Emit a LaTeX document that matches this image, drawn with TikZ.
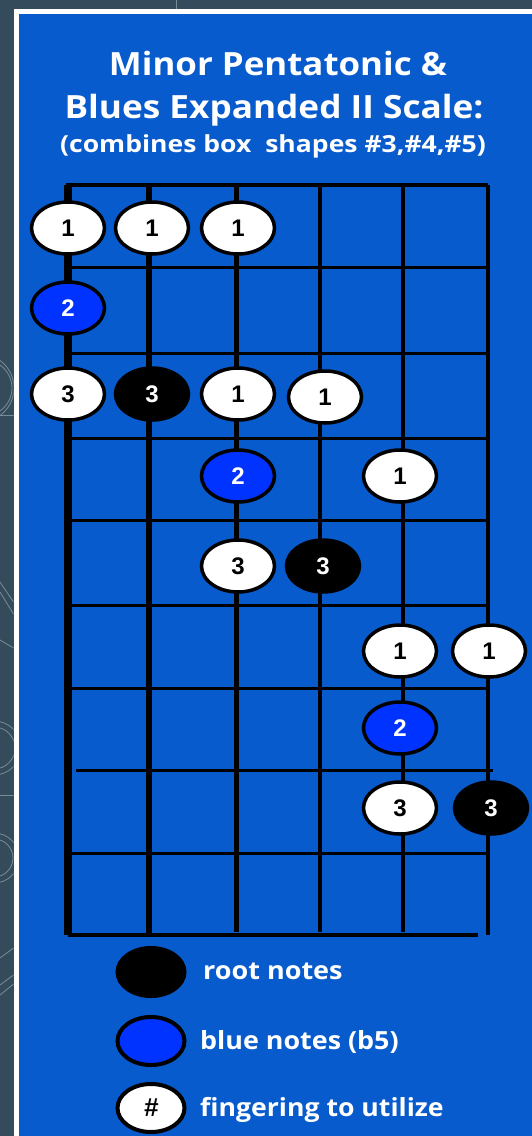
\documentclass[tikz,border=0pt]{standalone}
\usepackage{fontspec}
\setmainfont{Open Sans}
\newfontfamily\notefont{Liberation Sans}
\usetikzlibrary{shapes.geometric}
\definecolor{bgdark}{RGB}{52,75,91}
\definecolor{decor}{RGB}{120,140,152}
\definecolor{panel}{RGB}{8,91,204}
\definecolor{bluenote}{RGB}{0,51,255}
\begin{document}
\begin{tikzpicture}[x=1pt,y=-1pt,
  note/.style={ellipse, draw=black, line width=3.5pt, minimum width=73pt, minimum height=52pt, inner sep=0pt, font=\notefont\bfseries\fontsize{24}{24}\selectfont},
  wnote/.style={note, fill=white, text=black},
  bnote/.style={note, fill=bluenote, text=white},
  rnote/.style={note, fill=black, text=white},
  lgnote/.style={ellipse, draw=black, line width=4pt, minimum width=67pt, minimum height=48pt, inner sep=0pt},
  fretline/.style={line width=3pt},
  titletext/.style={text=white, inner sep=0pt, anchor=base, font=\bfseries\fontsize{32}{32}\selectfont},
  legendtext/.style={text=white, inner sep=0pt, anchor=base west, font=\bfseries\fontsize{25}{25}\selectfont}
]
\useasboundingbox (0,0) rectangle (532,1136);
% background
\fill[bgdark] (0,0) rectangle (532,1136);
\begin{scope}
  \clip (0,0) rectangle (13.5,1136);
  \draw[decor, line width=0.8pt] (-20,388) circle[radius=34];
  \draw[decor, line width=0.8pt] (-16,388) circle[radius=28];
  \draw[decor, line width=0.8pt] (0,415) -- (13.5,415);
  \draw[decor, line width=0.8pt] (0,582) -- (13.5,602) (0,592) -- (13.5,614);
  \draw[decor, line width=0.8pt] (0,640) -- (13.5,648);
  \draw[decor, line width=0.8pt] (-6,748) circle[radius=27] (-6,748) circle[radius=21];
  \draw[decor, line width=0.8pt] (0,795) -- (13.5,795);
  \draw[decor, line width=0.8pt] (-6,858) circle[radius=25] (-6,858) circle[radius=19];
  \draw[decor, line width=0.8pt] (0,958) -- (13.5,948) (0,985) -- (13.5,975) (0,995) -- (13.5,984);
\end{scope}
\draw[decor, line width=1pt] (176,0) -- (176,9);
\fill[white] (13.5,9) rectangle (532,1136);
\fill[panel] (19,14) rectangle (532,1136);
% title
\node[titletext] (t1) at (278,75) {\scalebox{1.09}[1]{Minor Pentatonic \&}};
\node[titletext] (t2) at (274,118) {\scalebox{1.1}[1]{Blues Expanded II Scale:}};
\node[titletext, font=\bfseries\fontsize{23.5}{23.5}\selectfont] (t3) at (273,152) {\scalebox{1.13}[1]{(combines box\ \ shapes \#3,\#4,\#5)}};
% frets
\draw[fretline, line width=3.5pt] (66,185) -- (488,185);
\foreach \y in {267,353,438,520,605,688,853} \draw[fretline] (68,\y) -- (488,\y);
\draw[fretline] (76,770) -- (493,770);
\draw[fretline, line width=3.5pt] (68,935) -- (478,935);
% strings
\draw[line width=8pt] (68,185) -- (68,935);
\draw[line width=6pt] (149,185) -- (149,935);
\draw[line width=5pt] (236,185) -- (236,932);
\draw[line width=4pt] (320,185) -- (320,932);
\draw[line width=4pt] (403,185) -- (403,932);
\draw[line width=3.5pt] (488,185) -- (488,935);
% notes
\node[wnote] (a1) at (68,228) {1};
\node[wnote] (a2) at (152,228) {1};
\node[wnote] (a3) at (238,228) {1};
\node[bnote] (b1) at (68,308) {2};
\node[wnote] (c1) at (68,394) {3};
\node[rnote] (c2) at (152,394) {3};
\node[wnote] (c3) at (238,394) {1};
\node[wnote] (c4) at (325,397) {1};
\node[bnote] (d3) at (238,476) {2};
\node[wnote] (d5) at (400,476) {1};
\node[wnote] (e3) at (238,566) {3};
\node[rnote] (e4) at (323,566) {3};
\node[wnote] (f5) at (400,651) {1};
\node[wnote] (f6) at (489,651) {1};
\node[bnote] (g5) at (400,728) {2};
\node[wnote] (h5) at (400,808) {3};
\node[rnote] (h6) at (491,808) {3};
% legend
\node[lgnote, fill=black] (l1) at (151,972) {};
\node[lgnote, fill=bluenote] (l2) at (151,1041) {};
\node[lgnote, fill=white, font=\notefont\bfseries\itshape\fontsize{26}{26}\selectfont] (l3) at (151,1108) {\#};
\node[legendtext] (lt1) at (203,979) {\scalebox{1.08}[1]{root notes}};
\node[legendtext] (lt2) at (200,1049) {\scalebox{1.075}[1]{blue notes (b5)}};
\node[legendtext] (lt3) at (200,1116) {\scalebox{1.065}[1]{fingering to utilize}};
\end{tikzpicture}
\end{document}
